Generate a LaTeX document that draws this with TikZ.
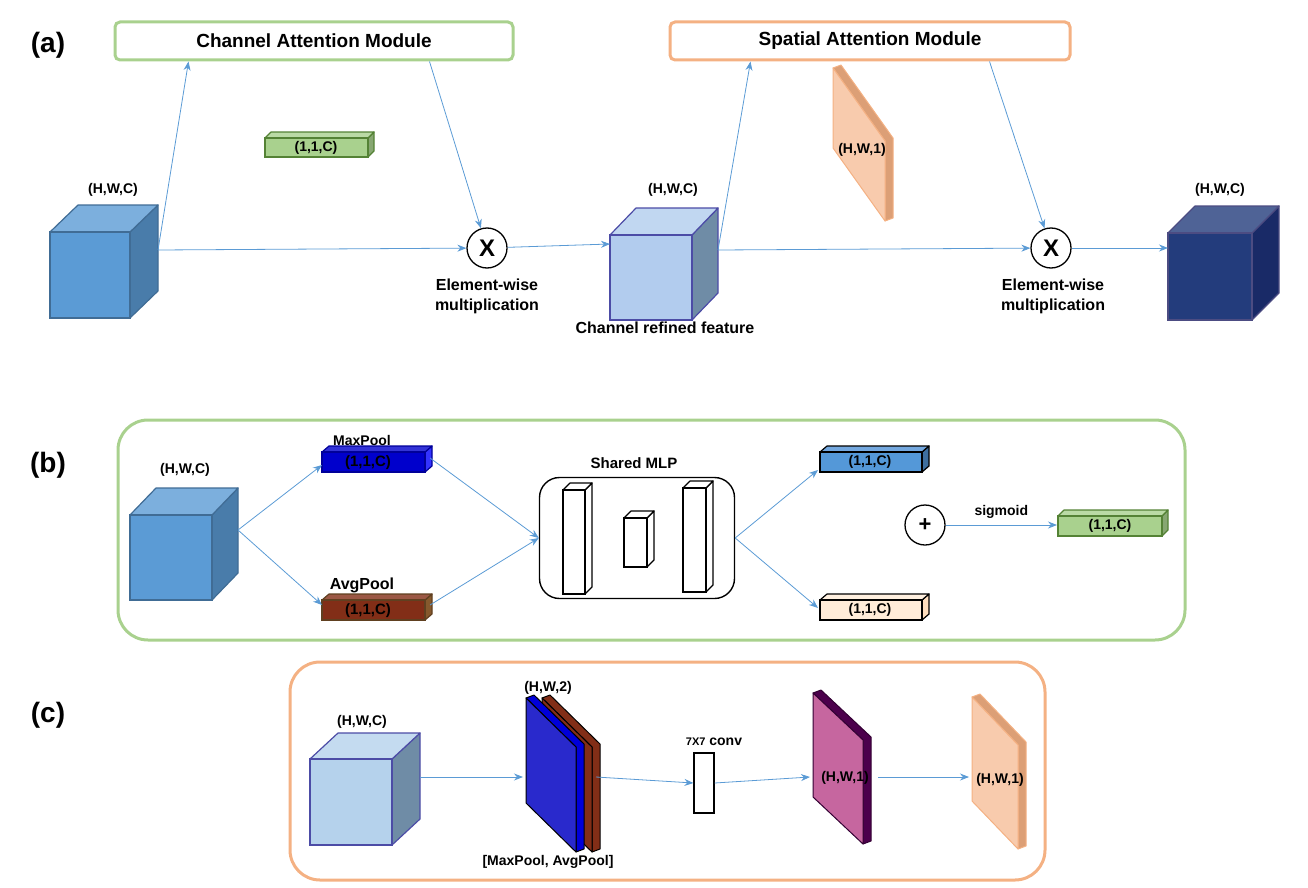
\documentclass[tikz,border=0pt]{standalone}
\usepackage{fontspec}
\setmainfont{Liberation Sans}
\usetikzlibrary{arrows.meta,calc}
\definecolor{ablue}{HTML}{5B9BD5}
\definecolor{gfr}{HTML}{A9D18E}
\definecolor{gbd}{HTML}{548235}
\definecolor{ofr}{HTML}{F8CBAD}
\definecolor{obd}{HTML}{F4B183}
\tikzset{
 arr/.style={draw=ablue,line width=0.8pt,-{Stealth[length=9pt,width=7pt]}},
 lab/.style={font=\bfseries\fontsize{14}{16}\selectfont,inner sep=0},
 frame/.style={line width=3pt,rounded corners=#1},
 bk/.style={font=\bfseries\fontsize{28}{30}\selectfont,inner sep=0},
}
% \cub{x}{y}{w}{h}{dx}{dy}{front}{top}{side}{border}{lw}
\newcommand\cub[9]{%
 \filldraw[fill=#8,draw=#9,line width=1.2pt,line join=round] (#1+#3,#2)--(#1+#3+#5,#2-#6)--(#1+#3+#5,#2+#4-#6)--(#1+#3,#2+#4)--cycle;
 \filldraw[fill=#7!80!white,draw=#9,line width=1.2pt,line join=round] (#1,#2)--(#1+#5,#2-#6)--(#1+#3+#5,#2-#6)--(#1+#3,#2)--cycle;
 \filldraw[fill=#7,draw=#9,line width=1.2pt] (#1,#2) rectangle (#1+#3,#2+#4);}
% \slb{x}{y}{w}{s}{h}{t}{face}{side}{border}
\newcommand\slb[9]{%
 \filldraw[fill=#8,draw=#9,line width=1pt,line join=round] (#1,#2)--(#1+#6,#2-3)--(#1+#3+#6,#2+#4-3)--(#1+#3+#6,#2+#4+#5-3)--(#1+#3,#2+#4+#5)--(#1+#3,#2+#4)--cycle;
 \filldraw[fill=#7,draw=#9,line width=1pt,line join=round] (#1,#2)--(#1+#3,#2+#4)--(#1+#3,#2+#4+#5)--(#1,#2+#5)--cycle;}
\begin{document}
\begin{tikzpicture}[x=1pt,y=-1pt]
\useasboundingbox (0,0) rectangle (1308,888);
% ---------- (a)
\node[bk] (la) at (48,45) {(a)};
\node[frame=5pt,draw=gfr,minimum width=398pt,minimum height=38pt,font=\bfseries\fontsize{19}{21}\selectfont] (cam) at (314,41) {Channel Attention Module};
\node[frame=5pt,draw=obd,minimum width=400pt,minimum height=38pt,font=\bfseries\fontsize{19}{21}\selectfont] (sam) at (870,41) {Spatial Attention Module};
\cub{265}{138}{103}{19}{6}{6}{gfr}{gfr!80!black}{gbd}
\node[lab] (c1) at (316,148) {(1,1,C)};
\cub{50}{232}{80}{86}{28}{27}{ablue}{ablue!80!black}{ablue!70!black}
\node[lab] (h1) at (113,190) {(H,W,C)};
\coordinate (o1) at (158,250);
\node[draw,circle,line width=1.3pt,minimum size=40pt,inner sep=0,font=\bfseries\fontsize{24}{24}\selectfont] (x1) at (487,248) {X};
\node[lab,align=center,font=\bfseries\fontsize{16}{20}\selectfont] (ew1) at (487,296) {Element-wise\\multiplication};
\cub{610}{235}{82}{85}{26}{27}{blue!8!ablue!45!white}{ablue!45!gray}{blue!50!black!70}
\node[lab] (h2) at (673,190) {(H,W,C)};
\node[lab,font=\bfseries\fontsize{16}{18}\selectfont] (crf) at (665,328) {Channel refined feature};
\coordinate (o2) at (718,250);
\coordinate (i2) at (610,244);
\slb{833}{68}{52}{73}{80}{8}{ofr}{obd!90!black}{obd}
\node[lab] (hw1) at (862,150) {(H,W,1)};
\node[draw,circle,line width=1.3pt,minimum size=40pt,inner sep=0,font=\bfseries\fontsize{24}{24}\selectfont] (x2) at (1051,248) {X};
\node[lab,align=center,font=\bfseries\fontsize{16}{20}\selectfont] (ew2) at (1053,296) {Element-wise\\multiplication};
\cub{1168}{233}{84}{87}{27}{27}{blue!30!ablue!55!black}{blue!40!ablue!45!black}{blue!30!black!70}
\node[lab] (h3) at (1220,190) {(H,W,C)};
\coordinate (i3) at (1168,248);
\draw[arr] (o1) -- ($(cam.south west)+(75,0)$);
\draw[arr] (o1) -- (x1);
\draw[arr] ($(cam.south east)+(-85,0)$) -- (x1);
\draw[arr] (x1) -- (i2);
\draw[arr] (o2) -- ($(sam.south west)+(82,0)$);
\draw[arr] (o2) -- (x2);
\draw[arr] ($(sam.south east)+(-82,0)$) -- (x2);
\draw[arr] (x2) -- (i3);
% ---------- (b)
\node[bk] (lb) at (48,465) {(b)};
\draw[frame=30pt,draw=gfr] (118,420) rectangle (1185,640);
\cub{130}{515}{82}{85}{26}{27}{ablue}{ablue!80!black}{ablue!70!black}
\node[lab] (h4) at (185,470) {(H,W,C)};
\coordinate (o4) at (238,530);
\cub{322}{452}{103}{20}{7}{6}{blue!80!black}{blue!80!white}{blue!60!black}
\node[lab] (mp) at (362,440) {MaxPool};
\node[lab,font=\bfseries\fontsize{15}{16}\selectfont] (mpc) at (368,463) {(1,1,C)};
\cub{322}{600}{103}{20}{7}{6}{brown!60!red!60!black}{brown!70!black}{brown!50!black}
\node[lab,font=\bfseries\fontsize{16}{18}\selectfont] (ap) at (362,585) {AvgPool};
\node[lab,font=\bfseries\fontsize{15}{16}\selectfont] (apc) at (368,611) {(1,1,C)};
\node[draw,line width=1.4pt,rounded corners=20pt,minimum width=195pt,minimum height=121pt] (mlp) at (637,538) {};
\node[lab,font=\bfseries\fontsize{15}{17}\selectfont] (smlp) at (634,463) {Shared MLP};
\cub{563}{490}{22}{104}{7}{7}{white}{white}{black}
\cub{624}{518}{23}{49}{7}{7}{white}{white}{black}
\cub{683}{488}{23}{104}{7}{7}{white}{white}{black}
\cub{820}{452}{102}{20}{7}{6}{cyan!60!blue!70!white}{cyan!60!blue!70!black}{black}
\node[lab] (cy) at (870,462) {(1,1,C)};
\cub{820}{600}{102}{20}{7}{6}{orange!15!white}{orange!25!white}{black}
\node[lab] (pa) at (870,610) {(1,1,C)};
\node[draw,circle,line width=1.3pt,minimum size=40pt,inner sep=0,font=\bfseries\fontsize{22}{22}\selectfont] (pl) at (925,525) {+};
\cub{1058}{516}{104}{20}{6}{6}{gfr}{gfr!80!black}{gbd}
\node[lab] (c2) at (1110,526) {(1,1,C)};
\draw[arr] (o4) -- (322,465);
\draw[arr] (o4) -- (322,605);
\draw[arr] (430,458) -- (mlp.west);
\draw[arr] (430,605) -- (mlp.west);
\draw[arr] (mlp.east) -- (818,470);
\draw[arr] (mlp.east) -- (818,608);
\draw[arr] (pl) -- node[lab,above=6pt] {sigmoid} (1057,525);
% ---------- (c)
\node[bk] (lc) at (48,715) {(c)};
\draw[frame=30pt,draw=obd] (290,662) rectangle (1045,880);
\cub{310}{759}{82}{86}{28}{26}{ablue!45!white}{ablue!45!gray}{blue!50!black!70}
\node[lab] (h5) at (362,722) {(H,W,C)};
\slb{542}{698}{50}{49}{105}{8}{brown!60!red!60!black}{brown!60!red!60!black}{black}
\slb{526}{698}{50}{49}{105}{8}{blue!80!white!80!black}{blue!85!black}{black}
\node[lab] (h6) at (548,688) {(H,W,2)};
\node[lab] (mpa) at (548,862) {[MaxPool, AvgPool]};
\node[draw,line width=1.2pt,minimum width=20pt,minimum height=60pt,inner sep=0] (cv) at (704,783) {};
\node[lab] (cvl) at (714,742) {{\fontsize{11}{12}\selectfont 7X7} conv};
\slb{813}{693}{50}{47}{104}{8}{violet!50!purple!60!white}{violet!60!black}{violet!40!black}
\node[lab] (h7) at (845,778) {(H,W,1)};
\slb{972}{697}{46}{48}{104}{8}{ofr}{obd!90!black}{obd}
\node[lab] (h8) at (1000,780) {(H,W,1)};
\draw[arr] (420,777) -- (523,777);
\draw[arr] (596,777) -- (cv.west);
\draw[arr] (cv.east) -- (810,777);
\draw[arr] (878,777) -- (969,777);
\end{tikzpicture}
\end{document}
